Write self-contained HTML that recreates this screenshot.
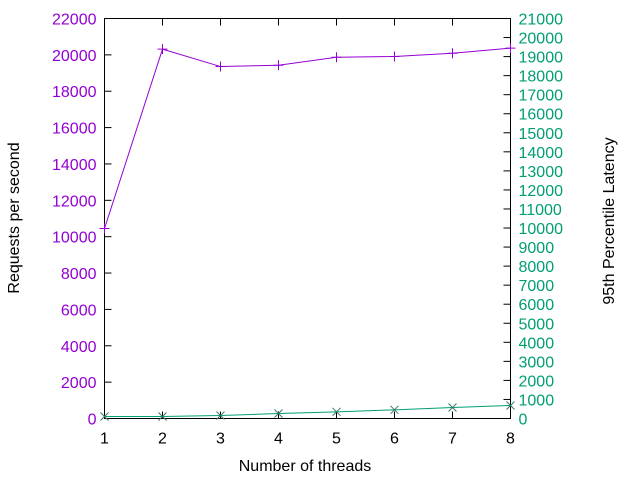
<!DOCTYPE html>
<html><head><meta charset="utf-8"><style>
body{margin:0;background:#fff}
svg text{font-family:"Liberation Sans",sans-serif;font-size:16px}
</style></head><body>
<svg id="chart" width="640" height="480">
<g id="axes"></g><g id="series"></g>
<text x="305" y="471" text-anchor="middle" fill="#000">Number of threads</text>
<text transform="translate(19,218) rotate(-90)" text-anchor="middle" fill="#000">Requests per second</text>
<text transform="translate(614,221) rotate(-90)" text-anchor="middle" fill="#000">95th Percentile Latency</text>
</svg>
<script>
const threads=[1,2,3,4,5,6,7,8];
const rps=[10450,20314,19357,19430,19870,19910,20090,20370];
const latency=[105,105,157,262,350,455,577,682];
const leftTicks=[0,2000,4000,6000,8000,10000,12000,14000,16000,18000,20000,22000];
const rightTicks=[0,1000,2000,3000,4000,5000,6000,7000,8000,9000,10000,11000,12000,13000,14000,15000,16000,17000,18000,19000,20000,21000];
const xTicks=[1,2,3,4,5,6,7,8];
const L=104.5,R=510.5,T=18.5,B=418.5;
const xs=v=>L+(v-1)/7*(R-L);
const yl=v=>B-v/22000*(B-T);
const yr=v=>B-v/21000*(B-T);
const NS="http://www.w3.org/2000/svg";
const ax=document.getElementById('axes'),se=document.getElementById('series');
function mk(p,tag,at,txt){const e=document.createElementNS(NS,tag);for(const k in at)e.setAttribute(k,at[k]);if(txt!==undefined)e.textContent=txt;p.appendChild(e);return e;}
const fr=mk(ax,'rect',{x:L,y:T,width:R-L,height:B-T,fill:'none',stroke:'#000','stroke-width':1});


leftTicks.forEach(v=>{const y=yl(v);
mk(ax,'line',{x1:L,x2:L+7,y1:y,y2:y,stroke:'#000'});
const t=mk(ax,'text',{x:L-8,y:y+6,'text-anchor':'end',fill:'#9400d3'},String(v));

});
rightTicks.forEach(v=>{const y=yr(v);
mk(ax,'line',{x1:R,x2:R-7,y1:y,y2:y,stroke:'#000'});
const t=mk(ax,'text',{x:R+8,y:y+6,'text-anchor':'start',fill:'#009e73'},String(v));

});
xTicks.forEach(v=>{const x=xs(v);
mk(ax,'line',{x1:x,x2:x,y1:B,y2:B-7,stroke:'#000'});mk(ax,'line',{x1:x,x2:x,y1:T,y2:T+7,stroke:'#000'});
const t=mk(ax,'text',{x:x,y:B+25,'text-anchor':'middle',fill:'#000'},String(v));

});
const p1=mk(se,'polyline',{points:threads.map((t,i)=>xs(t)+','+yl(rps[i])).join(' '),fill:'none',stroke:'#9400d3','stroke-width':1});


threads.forEach((t,i)=>{const x=xs(t),y=yl(rps[i]);
const g=mk(se,'path',{d:`M${x-5},${y}h10M${x},${y-5}v10`,stroke:'#9400d3','stroke-width':1});

});
const p2=mk(se,'polyline',{points:threads.map((t,i)=>xs(t)+','+yr(latency[i])).join(' '),fill:'none',stroke:'#009e73','stroke-width':1});


threads.forEach((t,i)=>{const x=xs(t),y=yr(latency[i]);
const g=mk(se,'path',{d:`M${x-4},${y-4}l8,8M${x-4},${y+4}l8,-8`,stroke:'#3a7a66','stroke-width':1});

});
</script>
</body></html>
